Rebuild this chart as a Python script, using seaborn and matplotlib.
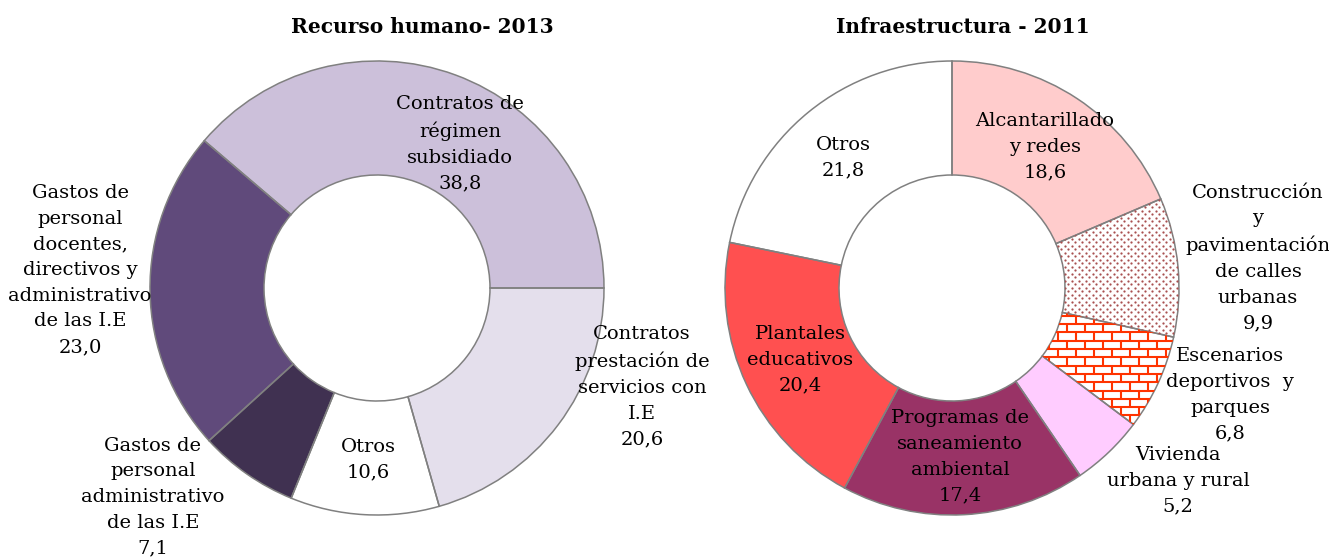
import numpy as np
import matplotlib
matplotlib.use("Agg")
import matplotlib.pyplot as plt
from matplotlib.collections import LineCollection
import seaborn as sns

# ---------------- data ----------------
rh_labels = ["Contratos de\nrégimen\nsubsidiado", "Contratos\nprestación de\nservicios con\nI.E",
             "Otros", "Gastos de\npersonal\nadministrativo\nde las I.E",
             "Gastos de\npersonal\ndocentes,\ndirectivos y\nadministrativo\nde las I.E"]
rh_values = [38.8, 20.6, 10.6, 7.1, 23.0]
rh_colors = ["#CCC0DA", "#E4DFEC", "#FFFFFF", "#403151", "#604A7B"]

inf_labels = ["Alcantarillado\ny redes", "Construcción\ny\npavimentación\nde calles\nurbanas",
              "Escenarios\ndeportivos  y\nparques", "Vivienda\nurbana y rural",
              "Programas de\nsaneamiento\nambiental", "Plantales\neducativos", "Otros"]
inf_values = [18.6, 9.9, 6.8, 5.2, 17.4, 20.4, 21.8]
inf_colors = ["#FFCCCC", "#FFFFFF", "#FFFFFF", "#FFCCFF", "#993366", "#FF5050", "#FFFFFF"]

titles = ["Recurso humano- 2013", "Infraestructura - 2011"]

# ---------------- layout (pixel coordinates, y measured from bottom) ----------------
W, H = 1329, 560
R_OUT, RING_W = 227, 114
rh_center = (377, H - 288)
inf_center = (952, H - 288)
rh_text_pos = [(460, H - 144), (642, H - 387), (368, H - 460), (153, H - 497), (80, H - 270)]
inf_text_pos = [(1045, H - 147), (1258, H - 258), (1230, H - 395), (1178, H - 481),
                (960, H - 457), (800, H - 360), (843, H - 158)]
title_pos = [(422, H - 27), (963, H - 27)]

sns.set_theme(style="white")
plt.rcParams["font.family"] = ["DejaVu Serif"]

fig = plt.figure(figsize=(W / 100, H / 100), dpi=100)
ax = fig.add_axes([0, 0, 1, 1])

edge = "#808080"


def donut(values, colors, center, startangle):
    wedges, _ = ax.pie(values, colors=colors, startangle=startangle, counterclock=False,
                       radius=R_OUT, center=center,
                       wedgeprops=dict(width=RING_W, linewidth=0))
    return wedges


def outline(values, center, startangle):
    ax.pie(values, colors=["none"] * len(values), startangle=startangle, counterclock=False,
           radius=R_OUT, center=center,
           wedgeprops=dict(width=RING_W, linewidth=1.1, edgecolor=edge, fill=False))


def fmt(v):
    return f"{v:.1f}".replace(".", ",")


# Recurso humano: first wedge ends at the 3 o'clock position
rh_start = 360 * rh_values[0] / sum(rh_values)
donut(rh_values, rh_colors, rh_center, rh_start)
outline(rh_values, rh_center, rh_start)

# Infraestructura: first wedge starts at 12 o'clock
iw = donut(inf_values, inf_colors, inf_center, 90)

# dotted texture for "Construcción"
cx, cy = inf_center
xs, ys = [], []
step = 7.0
for r_i, yy in enumerate(np.arange(cy - R_OUT, cy + R_OUT, step / 2)):
    off = (r_i % 2) * step / 2
    for xx in np.arange(cx - R_OUT + off, cx + R_OUT, step):
        xs.append(xx); ys.append(yy)
sc = ax.scatter(xs, ys, s=2.6, color="#A85050", linewidths=0, zorder=3)
sc.set_clip_path(iw[1])

# brick texture for "Escenarios"
segs = []
bh, bw = 8.3, 18.0
rows = np.arange(cy - R_OUT, cy + R_OUT, bh)
for i, yy in enumerate(rows):
    segs.append([(cx - R_OUT, yy), (cx + R_OUT, yy)])
    off = (i % 2) * bw / 2
    for xx in np.arange(cx - R_OUT + off, cx + R_OUT, bw):
        segs.append([(xx, yy), (xx, yy + bh)])
lc = LineCollection(segs, colors="#FF3300", linewidths=1.5, zorder=3)
ax.add_collection(lc)
lc.set_clip_path(iw[2])

outline(inf_values, inf_center, 90)

# labels
fs = 14
for lab, v, (x, y) in zip(rh_labels, rh_values, rh_text_pos):
    ax.text(x, y, f"{lab}\n{fmt(v)}", ha="center", va="center",
            multialignment="center", fontsize=fs, linespacing=1.55, color="black", zorder=5)
for lab, v, (x, y) in zip(inf_labels, inf_values, inf_text_pos):
    ax.text(x, y, f"{lab}\n{fmt(v)}", ha="center", va="center",
            multialignment="center", fontsize=fs, linespacing=1.55, color="black", zorder=5)
for t, (x, y) in zip(titles, title_pos):
    ax.text(x, y, t, ha="center", va="center", fontsize=14.5, fontweight="bold", color="black")

ax.set_xlim(0, W)
ax.set_ylim(0, H)
ax.set_aspect("equal", adjustable="box")
ax.axis("off")
fig.savefig("out.png", dpi=100, facecolor="white")
